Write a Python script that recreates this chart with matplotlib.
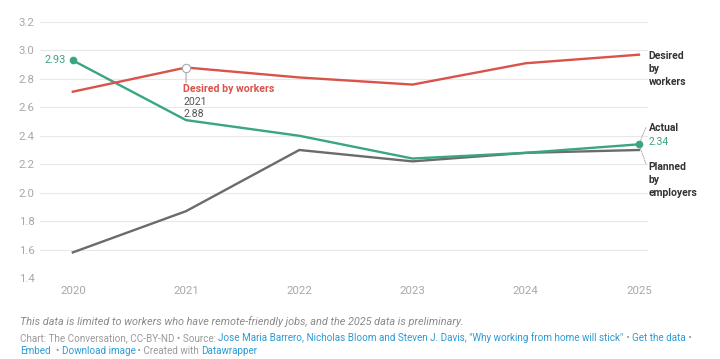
import matplotlib
matplotlib.use("Agg")
import matplotlib.pyplot as plt

years = [2020, 2021, 2022, 2023, 2024, 2025]
desired = [2.71, 2.88, 2.81, 2.76, 2.91, 2.97]
actual = [2.93, 2.51, 2.40, 2.24, 2.28, 2.34]
planned = [1.58, 1.87, 2.30, 2.22, 2.28, 2.30]
yticks = [1.4, 1.6, 1.8, 2.0, 2.2, 2.4, 2.6, 2.8, 3.0, 3.2]

RED = "#d9534a"
GREEN = "#3aa583"
GRAY = "#6b6b6b"
DARK = "#333333"
TICK = "#a8a8a8"
BLUE = "#2a9bd6"

plt.rcParams['font.family'] = ['Roboto', 'DejaVu Sans']

fig = plt.figure(figsize=(7.2, 3.59), dpi=100)
ax = fig.add_axes([40/720, 1-278/359, 608/720, 256/359])
ax.set_xlim(2019.71, 2025.08)
ax.set_ylim(1.4, 3.2)
for y in yticks:
    ax.axhline(y, color="#e8e8e8", lw=0.8, zorder=0)
for s in ax.spines.values():
    s.set_visible(False)
ax.set_yticks(yticks)
ax.set_yticklabels([f"{v:.1f}" for v in yticks])
ax.set_xticks(years)
ax.set_xticklabels([str(y) for y in years])
ax.tick_params(axis='both', length=0, colors=TICK, labelsize=8.2)
ax.tick_params(axis='y', pad=4)
ax.tick_params(axis='x', pad=6)

ax.plot(years, planned, color=GRAY, lw=1.7, zorder=3)
ax.plot(years, actual, color=GREEN, lw=1.7, zorder=4)
ax.plot(years, desired, color=RED, lw=1.7, zorder=5)
ax.plot([years[0], years[-1]], [actual[0], actual[-1]], 'o', color=GREEN, ms=4.5, zorder=6)

# 2020 label
ax.annotate(f"{actual[0]:.2f}", (years[0], actual[0]), xytext=(-5, 0), textcoords='offset points',
            ha='right', va='center', color=GREEN, fontsize=7.8)

# 2021 tooltip-like annotation
ax.plot([years[1]], [desired[1]], 'o', mfc='white', mec='#aaaaaa', ms=6, mew=0.8, zorder=7)
ax.annotate("", xy=(years[1], desired[1]), xytext=(0, -11), textcoords='offset points',
            xycoords='data', arrowprops=dict(arrowstyle='-', color='#aaaaaa', lw=0.8,
                                             shrinkA=0, shrinkB=3))
ax.annotate("Desired by workers", (years[1], desired[1]), xytext=(-2, -12), textcoords='offset points',
            ha='left', va='top', color=RED, fontsize=7.6, fontweight='bold')
ax.annotate(f"{years[1]}\n{desired[1]:.2f}", (years[1], desired[1]), xytext=(-2, -21.5), textcoords='offset points',
            ha='left', va='top', color='#555555', fontsize=7.6, linespacing=1.2)

# right-side labels
ax.annotate("Desired\nby\nworkers", (years[-1], desired[-1]), xytext=(7, 3), textcoords='offset points',
            ha='left', va='top', color=DARK, fontsize=7.5, fontweight='bold', linespacing=1.4,
            annotation_clip=False)
ax.annotate("Actual", (years[-1], actual[-1]), xytext=(7, 12), textcoords='offset points',
            ha='left', va='center', color=DARK, fontsize=7.5, fontweight='bold', annotation_clip=False)
ax.annotate(f"{actual[-1]:.2f}", (years[-1], actual[-1]), xytext=(7, 2), textcoords='offset points',
            ha='left', va='center', color=GREEN, fontsize=7.5, annotation_clip=False)
ax.annotate("Planned\nby\nemployers", (years[-1], planned[-1]), xytext=(7, -8.5), textcoords='offset points',
            ha='left', va='top', color=DARK, fontsize=7.5, fontweight='bold', linespacing=1.4,
            annotation_clip=False)
ax.annotate("", xy=(years[-1], actual[-1]), xytext=(5, 12), textcoords='offset points',
            arrowprops=dict(arrowstyle='-', color='#999999', lw=0.6, ls=(0, (1.5, 1.5)), shrinkA=0, shrinkB=2),
            annotation_clip=False)
ax.annotate("", xy=(years[-1], actual[-1]), xytext=(5, -14), textcoords='offset points',
            arrowprops=dict(arrowstyle='-', color='#999999', lw=0.6, ls=(0, (1.5, 1.5)), shrinkA=0, shrinkB=2),
            annotation_clip=False)

# footer
fig.text(20/720, 1-322/359, "This data is limited to workers who have remote-friendly jobs, and the 2025 data is preliminary.",
         ha='left', va='center', color='#8a8a8a', fontsize=7.8, style='italic')

FS = 7.15
segs1 = [("Chart: The Conversation, CC-BY-ND \u2022 Source: ", '#9a9a9a'),
         ("Jose Maria Barrero, Nicholas Bloom and Steven J. Davis, \"Why working from home will stick\"", BLUE),
         (" \u2022 ", '#9a9a9a'),
         ("Get the data", BLUE),
         (" \u2022", '#9a9a9a')]
segs2 = [("Embed", BLUE), ("  \u2022 ", '#9a9a9a'), ("Download image", BLUE),
         (" \u2022 Created with ", '#9a9a9a'), ("Datawrapper", BLUE)]

def draw_chain(segs, x, y):
    prev = fig.text(x, y, segs[0][0], color=segs[0][1], fontsize=FS, ha='left', va='baseline')
    for txt, col in segs[1:]:
        prev = plt.annotate(txt, xy=(1, 0), xycoords=prev, xytext=(0, 0), textcoords='offset points',
                            ha='left', va='bottom', color=col, fontsize=FS, annotation_clip=False)
    return prev

draw_chain(segs1, 20/720, 1-341/359)
draw_chain(segs2, 20/720, 1-354/359)

fig.savefig("out.png", dpi=100)
